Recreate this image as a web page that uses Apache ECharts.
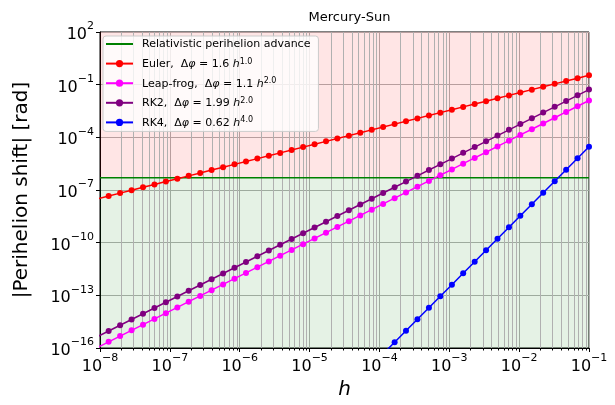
<!DOCTYPE html>
<html>
<head>
<meta charset="utf-8">
<script src="https://cdn.jsdelivr.net/npm/echarts@6/dist/echarts.min.js"></script>
<style>
  html, body { margin: 0; padding: 0; background: #fff; }
  #chart { width: 615px; height: 405px; }
</style>
</head>
<body>
<div id="chart"></div>
<script>
// Step sizes h (descending)
const hValues = [1.00e-1, 6.86e-2, 4.71e-2, 3.23e-2, 2.21e-2, 1.52e-2, 1.04e-2, 7.15e-3, 4.90e-3, 3.36e-3,
  2.31e-3, 1.58e-3, 1.09e-3, 7.44e-4, 5.11e-4, 3.50e-4, 2.40e-4, 1.65e-4, 1.13e-4, 7.76e-5,
  5.32e-5, 3.65e-5, 2.50e-5, 1.72e-5, 1.18e-5, 8.08e-6, 5.54e-6, 3.80e-6, 2.61e-6, 1.79e-6,
  1.23e-6, 8.42e-7, 5.78e-7, 3.96e-7, 2.72e-7, 1.86e-7, 1.28e-7, 8.77e-8, 6.02e-8, 4.13e-8,
  2.83e-8, 1.94e-8, 1.33e-8, 9.14e-9];

// |Perihelion shift| per integrator, one value per step size above
const eulerValues = [3.43e-1, 2.35e-1, 1.62e-1, 1.11e-1, 7.58e-2, 5.21e-2, 3.57e-2, 2.45e-2, 1.68e-2, 1.15e-2,
  7.92e-3, 5.42e-3, 3.74e-3, 2.55e-3, 1.75e-3, 1.20e-3, 8.23e-4, 5.66e-4, 3.88e-4, 2.66e-4,
  1.82e-4, 1.25e-4, 8.58e-5, 5.90e-5, 4.05e-5, 2.77e-5, 1.90e-5, 1.30e-5, 8.95e-6, 6.14e-6,
  4.22e-6, 2.89e-6, 1.98e-6, 1.36e-6, 9.33e-7, 6.38e-7, 4.39e-7, 3.01e-7, 2.06e-7, 1.42e-7,
  9.71e-8, 6.65e-8, 4.56e-8, 3.14e-8];

const leapfrogValues = [1.26e-2, 5.92e-3, 2.79e-3, 1.31e-3, 6.17e-4, 2.90e-4, 1.37e-4, 6.43e-5, 3.03e-5, 1.42e-5,
  6.70e-6, 3.15e-6, 1.48e-6, 6.98e-7, 3.28e-7, 1.55e-7, 7.27e-8, 3.42e-8, 1.61e-8, 7.57e-9,
  3.56e-9, 1.68e-9, 7.89e-10, 3.71e-10, 1.75e-10, 8.22e-11, 3.87e-11, 1.82e-11, 8.57e-12, 4.03e-12,
  1.90e-12, 8.93e-13, 4.20e-13, 1.98e-13, 9.30e-14, 4.38e-14, 2.06e-14, 9.69e-15, 4.56e-15, 2.14e-15,
  1.01e-15, 4.75e-16, 2.24e-16, 1.05e-16];

const rk2Values = [5.25e-2, 2.47e-2, 1.16e-2, 5.47e-3, 2.57e-3, 1.21e-3, 5.70e-4, 2.68e-4, 1.26e-4, 5.93e-5,
  2.79e-5, 1.31e-5, 6.18e-6, 2.91e-6, 1.37e-6, 6.44e-7, 3.03e-7, 1.43e-7, 6.71e-8, 3.16e-8,
  1.49e-8, 6.99e-9, 3.29e-9, 1.55e-9, 7.29e-10, 3.43e-10, 1.61e-10, 7.59e-11, 3.57e-11, 1.68e-11,
  7.91e-12, 3.72e-12, 1.75e-12, 8.24e-13, 3.88e-13, 1.82e-13, 8.58e-14, 4.04e-14, 1.90e-14, 8.94e-15,
  4.21e-15, 1.98e-15, 9.32e-16, 4.38e-16];

// RK4 values (only the step sizes down to where it leaves the plotted range)
const rk4Values = [2.88e-5, 6.39e-6, 1.41e-6, 3.13e-7, 6.93e-8, 1.53e-8, 3.40e-9, 7.52e-10, 1.67e-10, 3.69e-11,
  8.17e-12, 1.81e-12, 4.00e-13, 8.86e-14, 1.96e-14, 4.35e-15, 9.62e-16, 2.13e-16, 4.72e-17];

// Relativistic perihelion advance of Mercury per orbit [rad]
const relativisticShift = 5.0e-7;

// Axis limits and tick exponents
const xLimits = [1e-8, 1e-1];
const yLimits = [1e-16, 1e2];
const xTickExponents = [-8, -7, -6, -5, -4, -3, -2, -1];
const yTickExponents = [-16, -13, -10, -7, -4, -1, 2];

// Legend entries: method name, fit coefficient, fit order
const methodNames = ['Euler', 'Leap-frog', 'RK2', 'RK4'];
const fitCoefficients = ['1.6', '1.1', '1.99', '0.62'];
const fitOrders = ['1.0', '2.0', '2.0', '4.0'];
const methodColors = ['#ff0000', '#ff00ff', '#800080', '#0000ff'];
const refName = 'Relativistic perihelion advance';

const FONT = 'DejaVu Sans';

function pairs(ys) {
  return ys.map((y, i) => [hValues[i], y]);
}

// minor gridline positions (2..9 x 10^k) on the h axis
const minorX = [];
for (let e = xTickExponents[0]; e < xTickExponents[xTickExponents.length - 1]; e++) {
  for (let m = 2; m <= 9; m++) minorX.push([m * Math.pow(10, e), 1]);
}

function expLabel(v) {
  const e = Math.round(Math.log10(v));
  return '{b|10}{s|' + (e < 0 ? '\u2212' + (-e) : String(e)) + '}';
}

const tickRich = {
  b: { fontSize: 16, fontFamily: FONT, color: '#000', lineHeight: 22, verticalAlign: 'bottom' },
  s: { fontSize: 11, fontFamily: FONT, color: '#000', lineHeight: 13, verticalAlign: 'top' }
};

const seriesList = [
  {
    name: refName,
    type: 'line',
    data: [[xLimits[0], relativisticShift], [xLimits[1], relativisticShift]],
    symbol: 'none',
    lineStyle: { color: '#008000', width: 1.5 },
    itemStyle: { color: '#008000' },
    z: 3,
    silent: true,
    markArea: {
      silent: true,
      z: 1,
      data: [
        [{ yAxis: relativisticShift, itemStyle: { color: 'rgba(255,0,0,0.1)' } }, { yAxis: yLimits[1] }],
        [{ yAxis: yLimits[0], itemStyle: { color: 'rgba(0,128,0,0.1)' } }, { yAxis: relativisticShift }]
      ]
    }
  },
  {
    type: 'custom',
    silent: true,
    z: 1.5,
    data: minorX,
    renderItem: function (params, api) {
      const v = api.value(0);
      const top = api.coord([v, yLimits[1]]);
      const bot = api.coord([v, yLimits[0]]);
      const x = Math.round(top[0]) + 0.5;
      return {
        type: 'group',
        children: [
          { type: 'line', shape: { x1: x, y1: top[1], x2: x, y2: bot[1] },
            style: { stroke: '#b0b0b0', lineWidth: 1 } },
          { type: 'line', shape: { x1: x, y1: bot[1], x2: x, y2: bot[1] + 2.5 },
            style: { stroke: '#000', lineWidth: 1 } }
        ]
      };
    }
  }
];

const valueSets = [eulerValues, leapfrogValues, rk2Values, rk4Values];
methodNames.forEach((name, i) => {
  seriesList.push({
    name: name,
    type: 'line',
    data: pairs(valueSets[i]),
    symbol: 'circle',
    symbolSize: 6,
    showAllSymbol: true,
    clip: true,
    lineStyle: { color: methodColors[i], width: 1.5 },
    itemStyle: { color: methodColors[i] },
    z: 4
  });
});

const legendText = {};
legendText[refName] = '{n|' + refName + '}';
methodNames.forEach((name, i) => {
  legendText[name] = '{n|' + name + ',  \u0394}{i|\u03c6}{n| = ' + fitCoefficients[i] + ' }{i|h}{s|' + fitOrders[i] + '}';
});

const legendData = [{ name: refName, itemStyle: { opacity: 0 } }].concat(methodNames.map(n => ({ name: n })));

const chart = echarts.init(document.getElementById('chart'), null, { renderer: 'canvas' });
chart.setOption({
  animation: false,
  backgroundColor: '#fff',
  title: {
    text: 'Mercury-Sun',
    left: 344.5,
    textAlign: 'center',
    top: 6,
    textStyle: { fontFamily: FONT, fontSize: 13, fontWeight: 'normal', color: '#000' }
  },
  grid: {
    left: 100, right: 26, top: 32, bottom: 55,
    show: true, borderColor: '#000', borderWidth: 1, backgroundColor: 'transparent'
  },
  legend: {
    data: legendData,
    orient: 'vertical',
    left: 103,
    top: 36,
    itemWidth: 27,
    itemHeight: 9,
    itemGap: 7.6,
    padding: [3, 8, 3, 2],
    backgroundColor: 'rgba(255,255,255,0.8)',
    borderColor: '#cccccc',
    borderWidth: 1,
    borderRadius: 3,
    formatter: name => legendText[name],
    textStyle: {
      color: '#000',
      padding: [0, 0, 0, 4],
      rich: {
        n: { fontSize: 11, fontFamily: FONT, color: '#000', lineHeight: 12, verticalAlign: 'bottom' },
        i: { fontSize: 11, fontFamily: FONT, fontStyle: 'italic', color: '#000', lineHeight: 12, verticalAlign: 'bottom' },
        s: { fontSize: 8, fontFamily: FONT, color: '#000', lineHeight: 9, verticalAlign: 'top' }
      }
    }
  },
  xAxis: {
    type: 'log',
    logBase: 10,
    min: xLimits[0],
    max: xLimits[1],
    interval: 1,
    name: 'h',
    nameLocation: 'middle',
    nameGap: 32,
    nameTextStyle: { fontFamily: FONT, fontSize: 20, fontStyle: 'italic', color: '#000' },
    axisLine: { show: true, lineStyle: { color: '#000', width: 1 } },
    axisTick: { show: true, inside: false, length: 4, lineStyle: { color: '#000' } },
    axisLabel: { margin: 5, formatter: expLabel, rich: tickRich, color: '#000' },
    splitLine: { show: true, lineStyle: { color: '#b0b0b0', width: 1 } }
  },
  yAxis: {
    type: 'log',
    logBase: 10,
    min: yLimits[0],
    max: yLimits[1],
    interval: 3,
    name: '|Perihelion shift| [rad]',
    nameLocation: 'middle',
    nameRotate: 90,
    nameGap: 68,
    nameTextStyle: { fontFamily: FONT, fontSize: 20, color: '#000' },
    axisLine: { show: true, lineStyle: { color: '#000', width: 1 } },
    axisTick: { show: true, inside: false, length: 4, lineStyle: { color: '#000' } },
    axisLabel: { margin: 6, formatter: expLabel, rich: tickRich, color: '#000' },
    splitLine: { show: true, lineStyle: { color: '#b0b0b0', width: 1 } }
  },
  series: seriesList
});
</script>
</body>
</html>
